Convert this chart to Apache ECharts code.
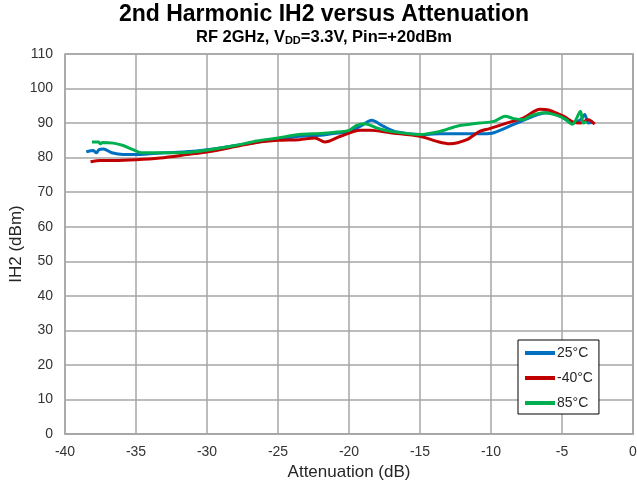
<!DOCTYPE html>
<html>
<head>
<meta charset="utf-8">
<script src="https://cdn.jsdelivr.net/npm/echarts@6/dist/echarts.min.js"></script>
<style>html,body{margin:0;padding:0;background:#fff;}#c{width:637px;height:486px;}</style>
</head>
<body>
<div id="c"></div>
<script>
const seriesNames = ['25°C', '-40°C', '85°C'];
const xTicks = [-40, -35, -30, -25, -20, -15, -10, -5, 0];
const yTicks = [0, 10, 20, 30, 40, 50, 60, 70, 80, 90, 100, 110];

const x25 = [-38.5, -38.0, -37.8, -37.6, -37.3, -36.7, -35.9, -35.0, -34.0, -33.0, -31.5, -30.0, -28.0, -26.0, -25.0, -23.5, -22.0, -21.1, -20.0, -19.2, -18.4, -17.6, -16.6, -15.0, -13.6, -12.0, -10.5, -9.8, -8.4, -7.0, -6.1, -5.1, -4.3, -3.7, -3.4, -3.15, -2.8];
const y25 = [81.7, 82.1, 81.4, 82.3, 82.5, 81.4, 80.9, 80.9, 81.1, 81.4, 81.7, 82.3, 83.5, 84.8, 85.3, 86.2, 86.5, 87.0, 87.5, 89.1, 90.8, 89.1, 87.4, 86.7, 86.9, 86.9, 86.9, 87.2, 89.6, 92.0, 93.0, 92.0, 90.0, 91.0, 92.5, 90.0, 90.3];

const xM40 = [-38.2, -37.5, -36.6, -35.0, -33.3, -31.4, -29.8, -28.0, -26.5, -25.0, -23.5, -22.4, -21.7, -20.6, -19.2, -18.5, -17.1, -15.0, -13.8, -12.9, -11.7, -10.8, -10.1, -8.9, -7.7, -6.55, -5.96, -4.9, -4.2, -3.7, -3.15, -2.7];
const yM40 = [78.8, 79.2, 79.2, 79.4, 79.9, 80.9, 81.8, 83.2, 84.4, 85.0, 85.2, 85.7, 84.5, 86.2, 87.9, 87.9, 87.2, 86.2, 84.7, 84.0, 85.2, 87.6, 88.4, 90.0, 91.5, 94.0, 93.8, 92.0, 90.3, 90.0, 91.0, 89.7];

const x85 = [-38.1, -37.65, -37.5, -37.35, -36.6, -35.9, -35.2, -34.6, -33.3, -31.4, -29.8, -28.0, -26.5, -25.0, -23.5, -22.0, -21.1, -20.0, -19.5, -18.9, -18.05, -17.1, -15.0, -13.6, -12.4, -10.8, -9.8, -9.0, -8.4, -7.7, -7.25, -6.3, -5.4, -4.7, -4.3, -4.1, -3.7, -3.5, -3.26];
const y85 = [84.5, 84.5, 84.0, 84.4, 84.2, 83.5, 82.3, 81.4, 81.4, 81.5, 82.3, 83.5, 84.8, 85.7, 86.7, 87.0, 87.3, 87.9, 89.3, 89.8, 88.6, 87.6, 86.7, 87.6, 89.1, 90.0, 90.5, 92.0, 91.3, 91.0, 92.0, 93.0, 92.3, 91.0, 89.7, 90.3, 93.4, 90.0, 90.5];

const colors = ['#0070C0', '#C00000', '#00B050'];
const FONT = 'Liberation Sans, Arial, sans-serif';

function pairs(xs, ys) { return xs.map((x, i) => [x, ys[i]]); }
const seriesData = [pairs(x25, y25), pairs(xM40, yM40), pairs(x85, y85)];

const chart = echarts.init(document.getElementById('c'), null, {renderer: 'canvas'});
chart.setOption({
  animation: false,
  backgroundColor: '#fff',
  graphic: [
    {type: 'text', x: 324, y: 15, style: {text: '2nd Harmonic IH2 versus Attenuation', fontFamily: FONT, fontWeight: 'bold', fontSize: 23, fill: '#000', textAlign: 'center', textVerticalAlign: 'middle'}},
    {type: 'text', x: 324, y: 37, style: {text: 'RF 2GHz, V{sub|DD}=3.3V, Pin=+20dBm', fontFamily: FONT, fontWeight: 'bold', fontSize: 16.5, fill: '#000', textAlign: 'center', textVerticalAlign: 'middle',
      rich: {sub: {fontFamily: FONT, fontWeight: 'bold', fontSize: 11, fill: '#000', padding: [8, 0, 0, 0]}}}}
  ],
  grid: {left: 65, right: 4, top: 54, bottom: 52, show: true, borderColor: '#a6a6a6', borderWidth: 1.5, backgroundColor: '#fff', containLabel: false, outerBoundsMode: 'none'},
  legend: {
    data: seriesNames,
    orient: 'vertical',
    left: 518, top: 340,
    backgroundColor: '#fff',
    borderColor: '#000', borderWidth: 1,
    padding: [5, 6, 3, 7],
    itemGap: 9,
    itemWidth: 30, itemHeight: 4,
    icon: 'rect',
    textStyle: {fontFamily: FONT, fontSize: 14, color: '#262626', lineHeight: 16, padding: [0, 0, 0, -3]}
  },
  xAxis: {
    type: 'value', min: xTicks[0], max: xTicks[xTicks.length - 1], interval: 5,
    name: 'Attenuation (dB)', nameLocation: 'middle', nameGap: 30, nameMoveOverlap: false,
    nameTextStyle: {fontFamily: FONT, fontSize: 17, color: '#262626'},
    axisLine: {show: true, lineStyle: {color: '#a6a6a6', width: 1.5}},
    axisTick: {show: false},
    axisLabel: {fontFamily: FONT, fontSize: 14, color: '#333', margin: 11},
    splitLine: {show: true, lineStyle: {color: '#a6a6a6', width: 1.5}}
  },
  yAxis: {
    type: 'value', min: yTicks[0], max: yTicks[yTicks.length - 1], interval: 10,
    name: 'IH2 (dBm)', nameLocation: 'middle', nameGap: 40, nameMoveOverlap: false,
    nameTextStyle: {fontFamily: FONT, fontSize: 17, color: '#262626'},
    axisLine: {show: true, lineStyle: {color: '#a6a6a6', width: 1.5}},
    axisTick: {show: false},
    axisLabel: {fontFamily: FONT, fontSize: 14, color: '#333', margin: 12},
    splitLine: {show: true, lineStyle: {color: '#a6a6a6', width: 1.5}}
  },
  series: seriesNames.map((n, i) => ({
    name: n, type: 'line', data: seriesData[i], smooth: 0.3, showSymbol: false, symbol: 'none',
    lineStyle: {color: colors[i], width: 3}, itemStyle: {color: colors[i]}
  }))
});
</script>
</body>
</html>
